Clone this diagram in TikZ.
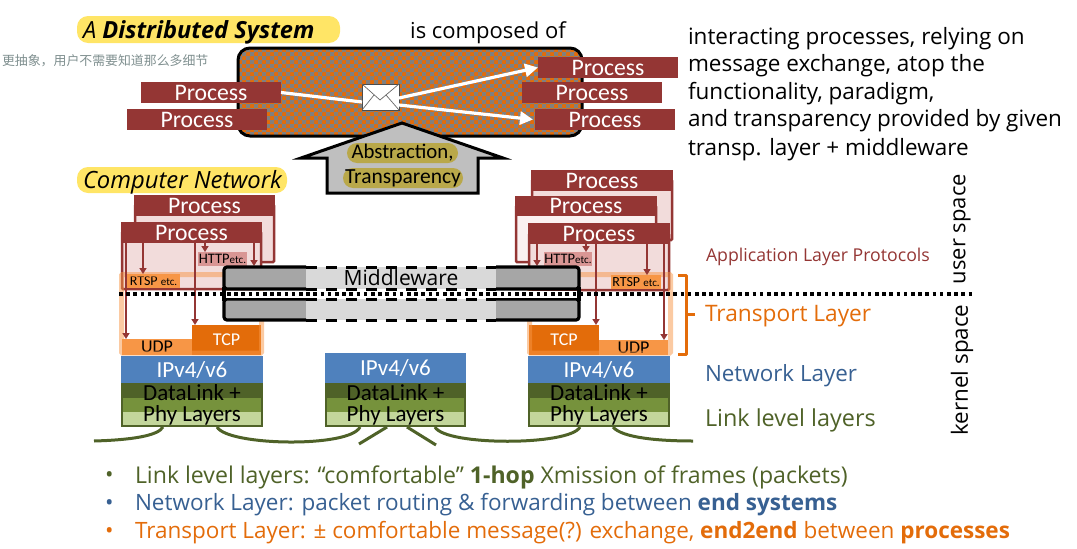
\documentclass[tikz,border=0pt]{standalone}
\usepackage{fontspec}
\setmainfont{Open Sans}
\newfontfamily\calif{Carlito}
\newfontfamily\cjk{Noto Sans CJK SC}
\usetikzlibrary{calc,arrows.meta}
\definecolor{procred}{HTML}{943634}
\definecolor{pinkbody}{HTML}{F2DCDB}
\definecolor{orangeD}{HTML}{E36C0A}
\definecolor{orangeL}{HTML}{F79646}
\definecolor{ipblue}{HTML}{4F81BD}
\definecolor{netblue}{HTML}{376092}
\definecolor{grD}{HTML}{4F6228}
\definecolor{grM}{HTML}{76923C}
\definecolor{grL}{HTML}{C3D69B}
\definecolor{pillY}{HTML}{FFE566}
\definecolor{pillO}{HTML}{B9A84A}
\definecolor{httpbg}{HTML}{D99694}
\definecolor{zhgray}{HTML}{7F8F8F}
\newcommand\fsz[1]{\fontsize{#1}{#1}\selectfont}
\newcommand\bx[7]{\node[#6,minimum width=(#4-#2)*1pt,minimum height=(#5-#3)*1pt] (#1) at ({(#2+#4)/2},{(#3+#5)/2}) {#7};}
\tikzset{
 x=1pt,y=-1pt,
 every node/.style={inner sep=0pt,outer sep=0pt},
 procbox/.style={fill=procred,text=white,font=\calif\fsz{23.7},text height=15pt,text depth=0pt},
 procbody/.style={fill=pinkbody,draw=procred,line width=2.5pt,rounded corners=1pt},
 redarrow/.style={draw=procred,line width=2.2pt,-{Triangle[length=6pt,width=7pt]}},
 whitearrow/.style={draw=white,line width=3.2pt,-{Triangle[length=13pt,width=13pt]}},
 whiteline/.style={draw=white,line width=3.2pt},
 pill/.style={rounded corners=10pt},
 transbox/.style={draw=orangeL,opacity=.5,line width=5pt,rounded corners=1pt},
 udpbox/.style={fill=orangeL,text=black,font=\calif\fsz{18}},
 tcpbox/.style={fill=orangeD,text=white,font=\calif\fsz{18}},
 httpbox/.style={fill=httpbg,text=black,font=\calif\fsz{14.5}},
 rtspbox/.style={fill=orangeL,text=black,font=\calif\fsz{14}},
 ipbox/.style={fill=ipblue,text=white,font=\calif\fsz{23},text height=15pt,text depth=0pt},
 lkD/.style={fill=grD},
 lkM/.style={fill=grM},
 lkL/.style={fill=grL},
 linktext/.style={text=black,font=\calif\fsz{23}},
 wire/.style={draw=grD,line width=3pt},
 midgray/.style={fill=black!35},
 midlight/.style={fill=black!15},
 rlabel/.style={anchor=west,font=\fsz{22.5}},
 righttext/.style={anchor=west,font=\fsz{22.5},text=black},
 bullet/.style={anchor=west,font=\fsz{22.5}},
}
\newcommand\linkstack[3]{% prefix, x1, x2
 \bx{#1D}{#2}{383}{#3}{398}{lkD}{}
 \bx{#1M}{#2}{398}{#3}{412}{lkM}{}
 \bx{#1L}{#2}{412}{#3}{427}{lkL}{}
 \draw[grD,line width=2pt] ([xshift=1pt]#1D.north west) -- ([xshift=1pt,yshift=1pt]#1L.south west) -- ([xshift=-1pt,yshift=1pt]#1L.south east) -- ([xshift=-1pt]#1D.north east);
 \node[linktext] (#1T1) at ({(#2+#3)/2},393) {DataLink +};
 \node[linktext] (#1T2) at ({(#2+#3)/2},415) {Phy Layers};
}
\begin{document}
\begin{tikzpicture}
\useasboundingbox (0,0) rectangle (1077,549);
% top: title
\bx{title}{77}{16}{340}{43}{fill=pillY,rounded corners=11pt}{}
\node[anchor=west,font=\fsz{23.6}] (titletxt) at (83,32) {\textit{A} \textbf{\textit{Distributed System}}};
\node[font=\fsz{22}] (comp) at (488,33) {is composed of};
\node[anchor=west,text=zhgray,font=\cjk\fsz{12.9}] (zh) at (2,61) {更抽象，用户不需要知道那么多细节};
\node[righttext] (r1) at (688,39) {interacting processes, relying on};
\node[righttext] (r2) at (688,66) {message exchange, atop the};
\node[righttext] (r3) at (688,94) {functionality, paradigm,};
\node[righttext] (r4) at (688,121) {and transparency provided by given};
\node[righttext] (r5) at (688,150) {transp. layer + middleware};
% distributed system box
\begin{scope}
\clip[rounded corners=12pt] (238,48) rectangle (582,136);
\fill[orangeD] (238,48) rectangle (582,136);
\fill[gray] \foreach \i in {0,...,43}{\foreach \j in {0,...,11}{
  ({238+\i*8},{48+\j*8}) rectangle ++(4,4) ({242+\i*8},{52+\j*8}) rectangle ++(4,4)}};
\end{scope}
\bx{sys}{238}{48}{582}{136}{draw=black,line width=3pt,rounded corners=12pt}{}
\bx{pa}{141}{82}{281}{103}{procbox}{Process}
\bx{pb}{127}{109}{267}{130}{procbox}{Process}
\bx{pc}{538}{57}{678}{78}{procbox}{Process}
\bx{pd}{522}{82}{662}{103}{procbox}{Process}
\bx{pe}{535}{109}{675}{130}{procbox}{Process}
\bx{env}{362}{84}{399}{110}{fill=white,draw=black!70,line width=.6pt}{}
\draw[black!60,line width=.7pt] (env.north west) -- (380,100) -- (env.north east) (env.south west) -- (374,95) (env.south east) -- (386,95);
\draw[whiteline] (pa.east) -- ([yshift=-5pt]env.west);
\draw[whitearrow] ([yshift=-1pt]env.east) -- (pc.west);
\draw[whitearrow] ([yshift=-8pt]env.east) -- ([xshift=-2pt]pe.west);
% abstraction arrow
\draw[fill=black!25,line width=3pt] (402,123) -- (503,158) -- (478,158) -- (478,193) -- (327,193) -- (327,158) -- (301,158) -- cycle;
\bx{abs}{347}{143}{458}{163}{fill=pillO,pill,text=black,font=\calif\fsz{20.8}}{Abstraction,}
\bx{trn}{343}{168}{463}{188}{fill=pillO,pill,text=black,font=\calif\fsz{21.5}}{Transparency}
% computer network
\bx{cnpill}{77}{167}{287}{193}{fill=pillY,rounded corners=11pt}{}
\node[anchor=west,font=\fsz{23.8}] (cntxt) at (83,182) {\textit{Computer Network}};
% left stack
\bx{lbb}{135}{205}{274}{262}{procbody}{}
\bx{lbh}{134}{195}{275}{216}{procbox}{Process}
\bx{lfb}{122}{232}{261}{289}{procbody}{}
\bx{lfh}{121}{222}{262}{243}{procbox}{Process}
\bx{lhttp}{198}{252}{247}{266}{httpbox}{HTTP{\fsz{11}etc.}}
\bx{lrtsp}{127}{274}{180}{288}{rtspbox}{RTSP {\fsz{11}etc.}}
\bx{ludp}{122}{339}{192}{355}{udpbox}{UDP}
\bx{ltcp}{192}{325}{261}{355}{tcpbox}{TCP}
\bx{ltr}{121.5}{274.5}{261.5}{353}{transbox}{}
\coordinate (lsink) at (254,266);
\draw[redarrow] ([xshift=5pt]lfh.south west) -- ([xshift=4pt]ludp.north west);
\draw[redarrow] ([xshift=22pt]lfh.south west) -- ([xshift=16pt]lrtsp.north west);
\draw[redarrow] ([xshift=74pt]lfh.south west) -- ([xshift=3pt]ltcp.north west);
\draw[redarrow] ([xshift=84pt]lfh.south west) -- ([xshift=7pt]lhttp.north west);
\draw[redarrow] ([xshift=133pt]lfh.south west) -- (lsink);
% right stack
\bx{rab}{532}{180}{672}{240}{procbody}{}
\bx{rah}{531}{170}{673}{191}{procbox}{Process}
\bx{rbb}{516}{206}{656}{262}{procbody,fill=pinkbody!40}{}
\bx{rbh}{515}{196}{657}{216}{procbox}{Process}
\bx{rcb}{529}{234}{669}{290}{procbody}{}
\bx{rch}{528}{223}{670}{244}{procbox}{Process}
\bx{rhttp}{544}{252}{592}{266}{httpbox}{HTTP{\fsz{11}etc.}}
\bx{rrtsp}{611}{275}{661}{289}{rtspbox}{RTSP {\fsz{11}etc.}}
\bx{rtcp}{529}{325}{599}{355}{tcpbox}{TCP}
\bx{rudp}{599}{340}{668}{355}{udpbox}{UDP}
\bx{rtr}{529.5}{274.5}{670.5}{353}{transbox}{}
\coordinate (rsink) at (537,266);
\draw[redarrow] ([xshift=9pt]rch.south west) -- (rsink);
\draw[redarrow] ([xshift=58pt]rch.south west) -- ([xshift=42pt]rhttp.north west);
\draw[redarrow] ([xshift=68pt]rch.south west) -- ([xshift=67pt]rtcp.north west);
\draw[redarrow] ([xshift=119pt]rch.south west) -- ([xshift=36pt]rrtsp.north west);
\draw[redarrow] ([xshift=136pt]rch.south west) -- ([xshift=65pt]rudp.north west);
% network + link stacks
\bx{lip}{121}{356}{263}{383}{ipbox}{IPv4/v6}
\linkstack{ll}{121}{263}
\bx{mip}{325}{353}{466}{383}{ipbox}{IPv4/v6}
\linkstack{ml}{325}{466}
\bx{rip}{528}{356}{670}{383}{ipbox}{IPv4/v6}
\linkstack{rl}{528}{670}
% middleware
\foreach \n/\a/\b in {u/267/289,d/299/320}{
 \bx{mg1\n}{224}{\a}{306}{\b}{midgray}{}
 \bx{mg2\n}{306}{\a}{496}{\b}{midlight}{}
 \bx{mg3\n}{496}{\a}{579}{\b}{midgray}{}
 \draw[line width=3.2pt,rounded corners=3pt] (mg1\n.south east) -- (mg1\n.south west) -- (mg1\n.north west) -- (mg1\n.north east);
 \draw[line width=3.2pt,rounded corners=3pt] (mg3\n.south west) -- (mg3\n.south east) -- (mg3\n.north east) -- (mg3\n.north west);
 \draw[line width=3pt,dash pattern=on 11pt off 9pt] (mg2\n.north west) -- (mg2\n.north east) (mg2\n.south west) -- (mg2\n.south east);
}
\fill[white] (225.5,290.5) rectangle (577.5,297.5);
\draw[line width=3.2pt] (224,287) -- (224,301) (579,287) -- (579,301);
\node[text=black,font=\fsz{21}] (mwtxt) at (401,278) {Middleware};
\coordinate (dotl) at (119,294);
\coordinate (dotr) at (975,294);
\draw[line width=3.6pt,dash pattern=on 3.6pt off 3.6pt] (dotl) -- (dotr);
% bracket
\coordinate (bt) at (678,275);
\coordinate (bb) at (678,354);
\coordinate (bm) at (695,314);
\draw[orangeD,line width=3pt,line join=round] (bt) -- (686,275) -- (686,354) -- (bb) (686,314) -- (bm);
% wires
\coordinate (w0) at (94,441);
\coordinate (w00) at (163,427);
\draw[wire] (w0) .. controls (130,440) and (158,436) .. (w00);
\coordinate (w1) at (217,427);
\coordinate (w2) at (360,427);
\draw[wire] (w1) .. controls (228,446) and (350,448) .. (w2);
\coordinate (w3) at (359,444);
\coordinate (w4) at (387,427);
\draw[wire] (w3) -- (w4);
\coordinate (w5) at (407,427);
\coordinate (w6) at (436,445);
\draw[wire] (w5) -- (w6);
\coordinate (w7) at (435,427);
\coordinate (w8) at (580,427);
\draw[wire] (w7) .. controls (445,446) and (570,446) .. (w8);
\coordinate (w9) at (613,427);
\coordinate (w10) at (693,441);
\draw[wire] (w9) .. controls (622,438) and (660,441) .. (w10);
% right labels
\node[rlabel,text=procred,font=\fsz{17.7}] (lapp) at (706,257) {Application Layer Protocols};
\node[rlabel,text=orangeD,font=\fsz{22.7}] (ltrn) at (705,316) {Transport Layer};
\node[rlabel,text=netblue,font=\fsz{22.4}] (lnet) at (705,376) {Network Layer};
\node[rlabel,text=grD,font=\fsz{23.4}] (llnk) at (705,420) {Link level layers};
\node[rotate=90,font=\fsz{22}] (us) at (962,229) {user space};
\node[rotate=90,font=\fsz{22.4}] (ks) at (962,370) {kernel space};
% bullets
\node[bullet,text=grD] (b1d) at (105,477) {•};
\node[bullet,text=grD,font=\fsz{23.1}] (b1) at (135,477) {Link level layers: “comfortable” \textbf{1-hop} Xmission of frames (packets)};
\node[bullet,text=netblue] (b2d) at (105,505) {•};
\node[bullet,text=netblue] (b2) at (135,505) {Network Layer: packet routing \& forwarding between \textbf{end systems}};
\node[bullet,text=orangeD] (b3d) at (105,533) {•};
\node[bullet,text=orangeD] (b3) at (135,533) {Transport Layer: ± comfortable message(?) exchange, \textbf{end2end} between \textbf{processes}};
\end{tikzpicture}
\end{document}
